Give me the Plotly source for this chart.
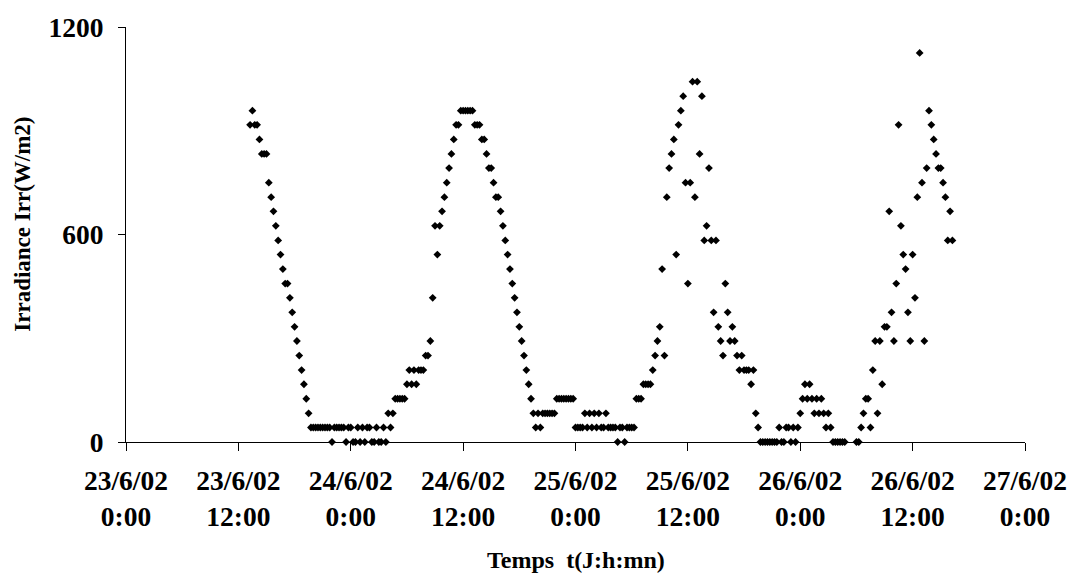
import pandas as pd
import plotly.graph_objects as go

# Irradiance logger readings (W/m2), one every 15 minutes from 23/6/02 13:15.
# None marks samples missing from the record.
start_time = "2002-06-23 13:15"
sample_step = "15min"
irradiance = [
    # 23/6 afternoon
    917, 958, 917, 917, 875, 833, 833, 833, 750, 708, 667, 625, 583, 542, 500,
    458, 458, 417, 375, 333, 292, 250, 208, 167, 125, 83,
    # night 23/6 -> 24/6
    42, 42, 42, 42, 42, 42, 42, 42, 42, 0, 42, 42, 42, 42, 42, 0, 42, 42, 0, 0,
    42, 0, 42, 0, 42, 42, 0, 0, 42, 0, 0, 42, 0, 83, 42, 83, 125, 125, 125, 125, 125,
    # 24/6 day
    167, 208, 167, 208, 167, 208, 208, 208, 250, 250, 292, 417, 625, 542, 625,
    667, 708, 750, 792, 833, 875, 917, 917, 958, 958, 958, 958, 958, 958, 917,
    917, 917, 875, 875, 833, 792, 792, 750, 708, 708, 667, 625, 583, 542, 500,
    458, 417, 375, 333, 292, 250, 208, 167, 125,
    # night 24/6 -> 25/6
    83, 42, 83, 42, 83, 83, 83, 83, 83, 83, 125, 125, 125, 125, 125, 125, 125, 125,
    42, 42, 42, 42, 83, 42, 83, 42, 83, 42, 83, 42, 42, 83, 42, 42, 42, 42, 0, 42,
    42, 0, 42, 42, 42,
    # 25/6 day (cloudy)
    42, 125, 125, 125, 167, 167, 167, 167, 208, 250, 292, 333, 500, 250, 708,
    792, 833, 875, 542, 917, 958, 1000, 750, 458, 750, 1042, 708, 1042, 833, 1000,
    583, 625, 792, 583, 375, 583, 333, 292, 250, 458, 375, 292, 333, 292, 250,
    208, 250, 208, 208, 208, 167, 208, 83, 42,
    # night 25/6 -> 26/6
    0, 0, 0, 0, 0, 0, 0, 0, 42, 0, 0, 42, 42, 0, 42, 0, 42, 83, 125, 167, 125,
    167, 125, 83, 125, 83, 125, 83, 42, 83, 42, 0, 0, 0, 0, 0, 0,
    None, None, None, None, 0, 0,
    # 26/6 morning (cloudy)
    42, 83, 125, 125, 42, 208, 292, 83, 292, 167, 333, 333, 667, 375, 292, 458,
    917, 625, 542, 500, 375, 292, 542, 417, 708, 1125, 750, 292, 792, 958, 917,
    875, 833, 792, 792, 750, 708, 583, 667, 583,
]
times = pd.date_range(start_time, periods=len(irradiance), freq=sample_step)

x_tick_times = pd.date_range("2002-06-23 00:00", "2002-06-27 00:00", freq="12h")
x_tick_labels = [
    "23/6/02<br>0:00", "23/6/02<br>12:00", "24/6/02<br>0:00", "24/6/02<br>12:00",
    "25/6/02<br>0:00", "25/6/02<br>12:00", "26/6/02<br>0:00", "26/6/02<br>12:00",
    "27/6/02<br>0:00",
]
y_ticks = [0, 600, 1200]

serif = "Liberation Serif, Times New Roman, serif"
tick_font = dict(family=serif, size=27.5, weight="bold", color="black")

fig = go.Figure(
    go.Scatter(
        x=times,
        y=irradiance,
        mode="markers",
        marker=dict(symbol="diamond", size=6, color="black", line=dict(width=0)),
        cliponaxis=False,
        showlegend=False,
    )
)

fig.update_layout(
    width=1079,
    height=575,
    margin=dict(l=126, r=50, t=23, b=133),
    paper_bgcolor="white",
    plot_bgcolor="white",
    font=dict(family=serif, color="black"),
    xaxis=dict(
        range=[x_tick_times[0], x_tick_times[-1]],
        tickmode="array",
        tickvals=x_tick_times,
        ticktext=x_tick_labels,
        tickfont=tick_font,
        ticks="outside",
        ticklen=8,
        tickwidth=1,
        tickcolor="black",
        ticklabelstandoff=6,
        showline=True,
        linecolor="black",
        linewidth=1,
        showgrid=False,
        zeroline=False,
    ),
    yaxis=dict(
        range=[0, 1200],
        tickmode="array",
        tickvals=y_ticks,
        tickfont=tick_font,
        ticks="outside",
        ticklen=7,
        tickwidth=1,
        tickcolor="black",
        ticklabelstandoff=9,
        showline=True,
        linecolor="black",
        linewidth=1,
        showgrid=False,
        zeroline=False,
    ),
    annotations=[
        dict(
            text="Temps\u00a0\u00a0t(J:h:mn)",
            xref="paper", yref="paper", x=0.5, y=-0.284,
            xanchor="center", yanchor="middle", showarrow=False,
            font=dict(family=serif, size=24, weight="bold", color="black"),
        ),
        dict(
            text="Irradiance Irr(W/m2)",
            xref="paper", yref="paper", x=-0.115, y=0.525,
            xanchor="center", yanchor="middle", textangle=-90, showarrow=False,
            font=dict(family=serif, size=23, weight="bold", color="black"),
        ),
    ],
)

fig.write_html("out.html")
